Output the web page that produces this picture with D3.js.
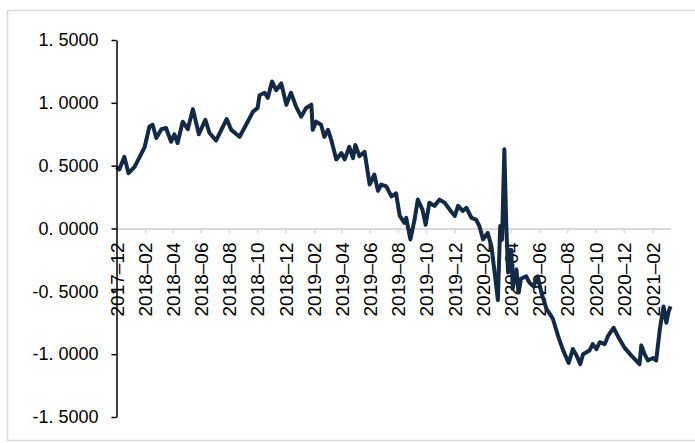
<!DOCTYPE html>
<html>
<head>
<meta charset="utf-8">
<script src="https://cdn.jsdelivr.net/npm/d3@7"></script>
<style>
  body { margin: 0; background: #fff; }
  svg { display: block; font-family: "Liberation Sans", Arial, sans-serif; }
</style>
</head>
<body>
<svg id="chart" width="695" height="443"></svg>
<script>
// dates and values
var dates = [
  "2017-12-01","2017-12-07","2017-12-18","2017-12-27","2018-01-09","2018-01-23","2018-01-31",
  "2018-02-10","2018-02-17","2018-02-25","2018-03-08","2018-03-18","2018-03-29","2018-04-05",
  "2018-04-12","2018-04-23","2018-05-04","2018-05-15","2018-05-28","2018-06-11","2018-06-20",
  "2018-07-04","2018-07-19","2018-07-27","2018-08-06","2018-08-24","2018-09-07","2018-09-22",
  "2018-10-02","2018-10-06","2018-10-17","2018-10-24","2018-11-02","2018-11-11","2018-11-22",
  "2018-12-03","2018-12-13","2018-12-24","2019-01-04","2019-01-15","2019-01-26","2019-01-29",
  "2019-02-05","2019-02-16","2019-02-23","2019-03-03","2019-03-10","2019-03-21","2019-04-01",
  "2019-04-08","2019-04-18","2019-04-26","2019-05-01","2019-05-10","2019-05-21","2019-06-01",
  "2019-06-11","2019-06-19","2019-06-26","2019-07-07","2019-07-18","2019-07-28","2019-08-05",
  "2019-08-15","2019-08-19","2019-08-28","2019-09-06","2019-09-13","2019-09-23","2019-09-30",
  "2019-10-08","2019-10-19","2019-10-30","2019-11-10","2019-11-21","2019-12-02","2019-12-09",
  "2019-12-19","2019-12-27","2020-01-07","2020-01-17","2020-01-24","2020-02-01","2020-02-11",
  "2020-02-19","2020-02-26","2020-03-04","2020-03-09","2020-03-13","2020-03-18","2020-03-22",
  "2020-03-26","2020-04-02","2020-04-05","2020-04-13","2020-04-18","2020-04-23","2020-05-04",
  "2020-05-11","2020-05-20","2020-05-29","2020-06-06","2020-06-17","2020-06-27","2020-07-01",
  "2020-07-12","2020-07-23","2020-08-04","2020-08-13","2020-08-21","2020-08-29","2020-09-04",
  "2020-09-18","2020-09-25","2020-10-03","2020-10-10","2020-10-21","2020-10-28","2020-11-09",
  "2020-11-18","2020-12-03","2020-12-17","2021-01-04","2021-01-08","2021-01-15","2021-01-22",
  "2021-02-02","2021-02-09","2021-02-17","2021-02-25","2021-03-03","2021-03-08","2021-03-12"
];
var values = [
  0.49, 0.47, 0.57, 0.44, 0.49, 0.59, 0.65,
  0.81, 0.825, 0.72, 0.79, 0.80, 0.69, 0.75,
  0.68, 0.85, 0.79, 0.95, 0.75, 0.865, 0.76,
  0.70, 0.81, 0.87, 0.785, 0.73, 0.825, 0.93,
  0.96, 1.06, 1.08, 1.04, 1.17, 1.10, 1.155,
  0.985, 1.08, 0.97, 0.89, 0.96, 0.985, 0.785,
  0.85, 0.825, 0.73, 0.785, 0.705, 0.55, 0.60,
  0.55, 0.65, 0.56, 0.665, 0.575, 0.61, 0.35,
  0.43, 0.30, 0.35, 0.335, 0.255, 0.28, 0.10,
  0.045, 0.085, -0.087, 0.07, 0.23, 0.15, 0.03,
  0.205, 0.18, 0.23, 0.205, 0.15, 0.10, 0.18,
  0.14, 0.165, 0.085, 0.07, 0.02, -0.087, -0.035,
  -0.14, -0.35, -0.57, 0.02, -0.09, 0.63, 0.045,
  -0.35, -0.17, -0.48, -0.325, -0.51, -0.40, -0.38,
  -0.43, -0.46, -0.38, -0.51, -0.64, -0.695, -0.72,
  -0.855, -0.97, -1.07, -0.96, -1.01, -1.08, -1.00,
  -0.97, -0.92, -0.96, -0.905, -0.92, -0.855, -0.79,
  -0.855, -0.95, -1.01, -1.08, -0.93, -1.00, -1.05,
  -1.03, -1.05, -0.80, -0.62, -0.75, -0.66, -0.62
];
var yTicks = [-1.5, -1.0, -0.5, 0, 0.5, 1.0, 1.5];
var xTicks = [
  "2017-12","2018-02","2018-04","2018-06","2018-08","2018-10","2018-12",
  "2019-02","2019-04","2019-06","2019-08","2019-10","2019-12",
  "2020-02","2020-04","2020-06","2020-08","2020-10","2020-12","2021-02"
];
var xStart = "2017-12-01", xEnd = "2021-03-12";

var parse = d3.timeParse("%Y-%m-%d");
var parseM = d3.timeParse("%Y-%m");
var data = dates.map(function(d, i) { return { date: parse(d), value: values[i] }; });

var svg = d3.select("#chart");

// outer frame
svg.append("rect")
  .attr("x", 7.5).attr("y", 10.5)
  .attr("width", 700).attr("height", 430)
  .attr("fill", "none").attr("stroke", "#d9d9d9").attr("stroke-width", 1.5);

var x = d3.scaleTime().domain([parse(xStart), parse(xEnd)]).range([116.5, 670.5]);
var y = d3.scaleLinear().domain([-1.5, 1.5]).range([417, 40]);

var fmtY = function(v) { return d3.format(".4f")(v).replace(".", ". ").replace("−", "-"); };
var fmtX = d3.timeFormat("%Y–%m");

// x axis on the zero line
var gx = svg.append("g")
  .attr("transform", "translate(0," + y(0) + ")")
  .call(d3.axisBottom(x)
    .tickValues(xTicks.map(parseM))
    .tickFormat(fmtX)
    .tickSizeInner(5).tickSizeOuter(0));
gx.select(".domain").attr("stroke", "#d9d9d9").attr("stroke-width", 2);
gx.selectAll(".tick line").attr("stroke", "#d9d9d9").attr("stroke-width", 1.5);
gx.selectAll(".tick text")
  .attr("transform", "rotate(-90)")
  .attr("x", -14).attr("y", 0).attr("dy", "0.35em")
  .style("text-anchor", "end")
  .style("font-size", "19px")
  .attr("fill", "#000");

// series
var line = d3.line()
  .x(function(d) { return x(d.date); })
  .y(function(d) { return y(d.value); });

svg.append("path")
  .datum(data)
  .attr("d", line)
  .attr("fill", "none")
  .attr("stroke", "#132a47")
  .attr("stroke-width", 4)
  .attr("stroke-linejoin", "round");

// y axis
var gy = svg.append("g")
  .attr("transform", "translate(116.5,0)")
  .call(d3.axisLeft(y)
    .tickValues(yTicks)
    .tickFormat(fmtY)
    .tickSizeInner(5).tickSizeOuter(0)
    .tickPadding(13));
gy.select(".domain").attr("stroke", "#000").attr("stroke-width", 1.5);
gy.selectAll(".tick line").attr("stroke", "#000").attr("stroke-width", 1.5);
gy.selectAll(".tick text").style("font-size", "18px").attr("fill", "#000");
</script>
</body>
</html>
